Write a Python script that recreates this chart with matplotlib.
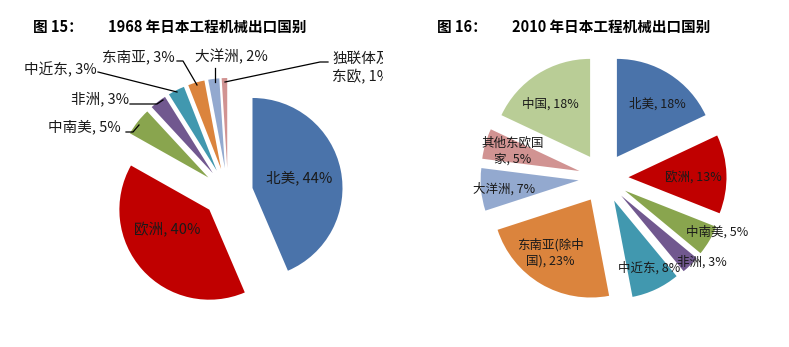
import matplotlib.pyplot as plt
from matplotlib.transforms import Bbox, TransformedBbox

plt.rcParams['font.family'] = ['Noto Sans CJK SC', 'DejaVu Sans']

# 1968 export destinations (share, %)
names_1968 = ['北美', '欧洲', '中南美', '非洲', '中近东', '东南亚', '大洋洲', '独联体及\n东欧']
share_1968 = [44, 40, 5, 3, 3, 3, 2, 1]

# 2010 export destinations (share, %)
names_2010 = ['北美', '欧洲', '中南美', '非洲', '中近东', '东南亚(除中\n国)', '大洋洲', '其他东欧国\n家', '中国']
share_2010 = [18, 13, 5, 3, 8, 23, 7, 5, 18]

colors_1968 = ['#4A73AA', '#C00000', '#89A54E', '#71588F', '#4198AF', '#DB843D', '#93A9CF', '#D19392']
colors_2010 = ['#4A73AA', '#C00000', '#89A54E', '#71588F', '#4198AF', '#DB843D', '#93A9CF', '#D19392', '#B9CD96']

W, H = 789, 347
fig = plt.figure(figsize=(W / 100, H / 100), dpi=100)
ax = fig.add_axes([0, 0, 1, 1])
ax.set_xlim(0, W)
ax.set_ylim(0, H)


def P(x, y):
    # pixel position measured from the top-left corner
    return (x, H - y)


def draw_pie(values, colors, center, r, gap):
    # explode offset in pie() is absolute, so pass the gap in pixels
    ax.pie(values, colors=colors, startangle=90, counterclock=False,
           radius=r, center=P(*center), explode=[gap] * len(values),
           frame=True, wedgeprops=dict(linewidth=0))


draw_pie(share_1968, colors_1968, (228, 193), 90, 25)
draw_pie(share_2010, colors_2010, (603.5, 178), 98, 25)

ax.set_xlim(0, W)
ax.set_ylim(0, H)
ax.set_aspect('auto')
ax.axis('off')

txt = dict(color='#1a1a1a', linespacing=1.3)

# label placement for 1968: (x, y, ha)
pos_1968 = [(299, 178, 'center'), (167, 230, 'center'), (121, 127, 'right'),
            (129, 99, 'right'), (97, 70, 'right'), (175, 57, 'right'),
            (195, 57, 'left'), (332, 68, 'left')]
for name, v, (x, y, ha) in zip(names_1968, share_1968, pos_1968):
    t = ax.text(*P(x, y), f'{name}, {v}%', ha=ha, va='center',
                multialignment='center', fontsize=10.5, **txt)
    if name.startswith('独联体'):
        # the original label runs off the chart area and is cut
        t.set_clip_on(True)
        t.set_clip_box(TransformedBbox(Bbox([[0, 0], [383, H]]), ax.transData))

leaders_1968 = [
    [(126, 132), (133, 132), (139, 125)],
    [(130, 104), (157, 104), (163, 100)],
    [(98, 72), (177, 92)],
    [(177, 61), (183, 61), (197, 85)],
    [(215, 68), (215, 82)],
    [(328, 62), (320, 62), (225, 82)],
]
for pts in leaders_1968:
    xs, ys = zip(*[P(*p) for p in pts])
    ax.plot(xs, ys, color='black', lw=0.9)

pos_2010 = [(657, 104), (693, 178), (717, 232), (702, 262), (649, 268),
            (550, 253), (504, 189), (513, 151), (550, 104)]
for name, v, (x, y) in zip(names_2010, share_2010, pos_2010):
    ax.text(*P(x, y), f'{name}, {v}%', ha='center', va='center',
            fontsize=9, **txt)

title = dict(fontsize=10.5, fontweight='bold', color='black', va='center')
ax.text(*P(33, 27), '图 15：', **title)
ax.text(*P(108, 27), '1968 年日本工程机械出口国别', **title)
ax.text(*P(437, 27), '图 16：', **title)
ax.text(*P(512, 27), '2010 年日本工程机械出口国别', **title)

fig.savefig('out.png', dpi=100)
